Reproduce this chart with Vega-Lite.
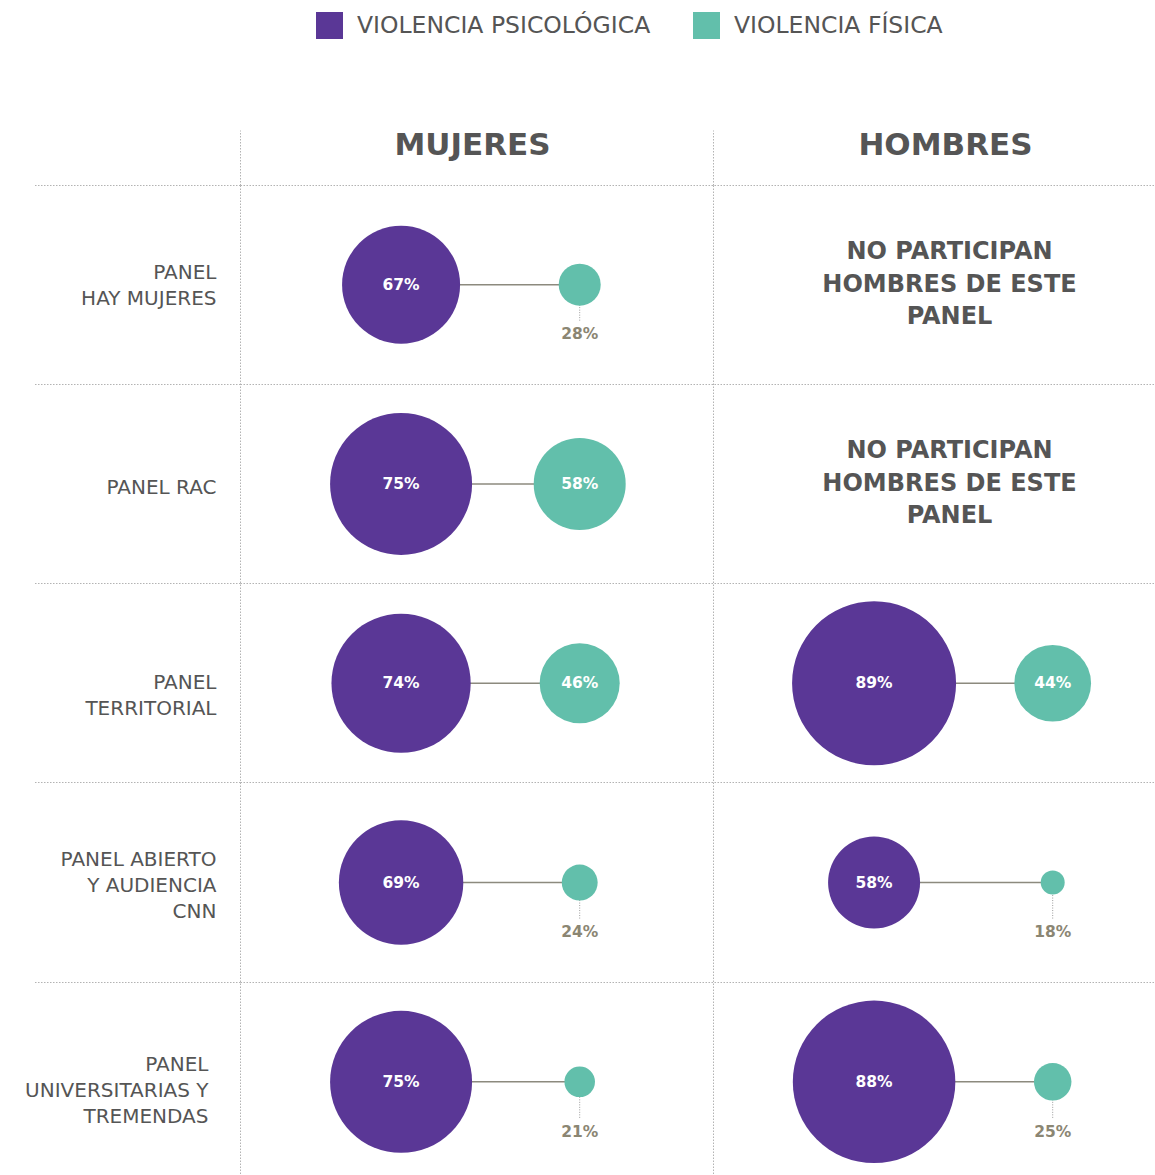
{
  "$schema": "https://vega.github.io/schema/vega-lite/v6.json",
  "width": 915,
  "height": 990,
  "autosize": "none",
  "padding": {"left": 240, "top": 185, "right": 0, "bottom": 0},
  "background": "white",
  "config": {
    "view": {"stroke": null},
    "font": "DejaVu Sans",
    "text": {"font": "DejaVu Sans"}
  },
  "datasets": {
    "valores": [
      {"panel": "PANEL\nHAY MUJERES", "genero": "MUJERES", "tipo": "VIOLENCIA PSICOLÓGICA", "valor": 0.67},
      {"panel": "PANEL\nHAY MUJERES", "genero": "MUJERES", "tipo": "VIOLENCIA FÍSICA", "valor": 0.28},
      {"panel": "PANEL RAC", "genero": "MUJERES", "tipo": "VIOLENCIA PSICOLÓGICA", "valor": 0.75},
      {"panel": "PANEL RAC", "genero": "MUJERES", "tipo": "VIOLENCIA FÍSICA", "valor": 0.58},
      {"panel": "PANEL\nTERRITORIAL", "genero": "MUJERES", "tipo": "VIOLENCIA PSICOLÓGICA", "valor": 0.74},
      {"panel": "PANEL\nTERRITORIAL", "genero": "MUJERES", "tipo": "VIOLENCIA FÍSICA", "valor": 0.46},
      {"panel": "PANEL\nTERRITORIAL", "genero": "HOMBRES", "tipo": "VIOLENCIA PSICOLÓGICA", "valor": 0.89},
      {"panel": "PANEL\nTERRITORIAL", "genero": "HOMBRES", "tipo": "VIOLENCIA FÍSICA", "valor": 0.44},
      {"panel": "PANEL ABIERTO\nY AUDIENCIA\nCNN", "genero": "MUJERES", "tipo": "VIOLENCIA PSICOLÓGICA", "valor": 0.69},
      {"panel": "PANEL ABIERTO\nY AUDIENCIA\nCNN", "genero": "MUJERES", "tipo": "VIOLENCIA FÍSICA", "valor": 0.24},
      {"panel": "PANEL ABIERTO\nY AUDIENCIA\nCNN", "genero": "HOMBRES", "tipo": "VIOLENCIA PSICOLÓGICA", "valor": 0.58},
      {"panel": "PANEL ABIERTO\nY AUDIENCIA\nCNN", "genero": "HOMBRES", "tipo": "VIOLENCIA FÍSICA", "valor": 0.18},
      {"panel": "PANEL\nUNIVERSITARIAS Y\nTREMENDAS", "genero": "MUJERES", "tipo": "VIOLENCIA PSICOLÓGICA", "valor": 0.75},
      {"panel": "PANEL\nUNIVERSITARIAS Y\nTREMENDAS", "genero": "MUJERES", "tipo": "VIOLENCIA FÍSICA", "valor": 0.21},
      {"panel": "PANEL\nUNIVERSITARIAS Y\nTREMENDAS", "genero": "HOMBRES", "tipo": "VIOLENCIA PSICOLÓGICA", "valor": 0.88},
      {"panel": "PANEL\nUNIVERSITARIAS Y\nTREMENDAS", "genero": "HOMBRES", "tipo": "VIOLENCIA FÍSICA", "valor": 0.25}
    ],
    "notas": [
      {"panel": "PANEL\nHAY MUJERES", "genero": "HOMBRES", "nota": "NO PARTICIPAN\nHOMBRES DE ESTE\nPANEL"},
      {"panel": "PANEL RAC", "genero": "HOMBRES", "nota": "NO PARTICIPAN\nHOMBRES DE ESTE\nPANEL"}
    ]
  },
  "encoding": {
    "x": {
      "field": "genero",
      "type": "nominal",
      "scale": {"domain": ["MUJERES", "HOMBRES"], "range": [0, 946], "paddingInner": 0, "paddingOuter": 0},
      "axis": {
        "orient": "top",
        "title": null,
        "bandPosition": 0,
        "domain": false,
        "ticks": true,
        "tickSize": 55,
        "tickColor": "#b3b3b3",
        "tickDash": [1.5, 1.5],
        "tickWidth": 1,
        "grid": true,
        "gridColor": "#b3b3b3",
        "gridDash": [1.5, 1.5],
        "gridWidth": 1,
        "labelAngle": 0,
        "labelPadding": -15,
        "labelOffset": -4,
        "labelBaseline": "middle",
        "labelFont": "DejaVu Sans",
        "labelFontSize": 31,
        "labelFontWeight": "bold",
        "labelColor": "#555555"
      }
    },
    "y": {
      "field": "panel",
      "type": "nominal",
      "scale": {
        "domain": ["PANEL\nHAY MUJERES", "PANEL RAC", "PANEL\nTERRITORIAL", "PANEL ABIERTO\nY AUDIENCIA\nCNN", "PANEL\nUNIVERSITARIAS Y\nTREMENDAS"],
        "range": [0, 996.5],
        "paddingInner": 0,
        "paddingOuter": 0
      },
      "axis": {
        "orient": "left",
        "title": null,
        "bandPosition": 0,
        "domain": false,
        "ticks": true,
        "tickSize": 207,
        "tickColor": "#b3b3b3",
        "tickDash": [1.5, 1.5],
        "tickWidth": 1,
        "grid": true,
        "gridColor": "#b3b3b3",
        "gridDash": [1.5, 1.5],
        "gridWidth": 1,
        "labelPadding": {
          "condition": {"test": "indexof(datum.value, 'UNIVERSITARIAS') >= 0", "value": -175},
          "value": -183
        },
        "labelOffset": {
          "condition": [
            {"test": "indexof(datum.value, 'HAY MUJERES') >= 0", "value": -12},
            {"test": "indexof(datum.value, 'RAC') >= 0", "value": 4},
            {"test": "indexof(datum.value, 'ABIERTO') >= 0", "value": -23},
            {"test": "indexof(datum.value, 'UNIVERSITARIAS') >= 0", "value": -17}
          ],
          "value": 0
        },
        "labelAlign": "right",
        "labelBaseline": "middle",
        "labelFont": "DejaVu Sans",
        "labelFontSize": 20,
        "labelColor": "#555555",
        "labelLineHeight": 26,
        "labelLimit": 400,
        "labelExpr": "split(datum.label, '\\n')"
      }
    }
  },
  "layer": [
    {
      "data": {"name": "valores"},
      "mark": {"type": "line", "color": "#8c8a7e", "strokeWidth": 1.5},
      "encoding": {
        "xOffset": {"field": "tipo", "type": "nominal", "scale": {"domain": ["VIOLENCIA PSICOLÓGICA", "VIOLENCIA FÍSICA"], "paddingInner": 0, "paddingOuter": 0.324, "align": 0.62}},
        "detail": [{"field": "panel", "type": "nominal"}, {"field": "genero", "type": "nominal"}]
      }
    },
    {
      "data": {"name": "valores"},
      "transform": [{"filter": "datum.tipo == 'VIOLENCIA FÍSICA' && datum.valor < 0.4"}],
      "mark": {"type": "rule", "color": "#9a9a9a", "strokeWidth": 1, "strokeDash": [1, 1.5]},
      "encoding": {
        "xOffset": {"field": "tipo", "type": "nominal"},
        "y": {"field": "panel", "type": "nominal", "bandPosition": 0.5},
        "y2": {"field": "panel", "bandPosition": 0.685}
      }
    },
    {
      "data": {"name": "valores"},
      "mark": {"type": "point", "shape": "circle", "filled": true, "opacity": 1, "strokeWidth": 0},
      "encoding": {
        "xOffset": {"field": "tipo", "type": "nominal"},
        "size": {
          "field": "valor",
          "type": "quantitative",
          "scale": {"type": "linear", "domain": [0, 0.18, 0.28, 0.46, 0.58, 0.67, 0.75, 0.89, 1], "range": [0, 576, 1764, 6400, 8464, 13924, 20164, 26896, 33000]},
          "legend": null
        },
        "color": {
          "field": "tipo",
          "type": "nominal",
          "scale": {"domain": ["VIOLENCIA PSICOLÓGICA", "VIOLENCIA FÍSICA"], "range": ["#5a3796", "#62bfab"]},
          "legend": {
            "orient": "none",
            "legendX": 76,
            "legendY": -173,
            "direction": "horizontal",
            "title": null,
            "symbolType": "square",
            "symbolSize": 729,
            "symbolStrokeWidth": 0,
            "symbolOpacity": 1,
            "labelFont": "DejaVu Sans",
            "labelFontSize": 23.5,
            "labelColor": "#555555",
            "labelOffset": 14,
            "columnPadding": 42,
            "padding": 0,
            "labelLimit": 400
          }
        }
      }
    },
    {
      "data": {"name": "valores"},
      "transform": [{"filter": "datum.tipo == 'VIOLENCIA PSICOLÓGICA' || datum.valor >= 0.4"}],
      "mark": {"type": "text", "color": "white", "fontSize": 15.5, "fontWeight": "bold", "baseline": "middle"},
      "encoding": {
        "xOffset": {"field": "tipo", "type": "nominal"},
        "text": {"field": "valor", "type": "quantitative", "format": ".0%"}
      }
    },
    {
      "data": {"name": "valores"},
      "transform": [{"filter": "datum.tipo == 'VIOLENCIA FÍSICA' && datum.valor < 0.4"}],
      "mark": {"type": "text", "color": "#8b8673", "fontSize": 15.5, "fontWeight": "bold", "baseline": "middle"},
      "encoding": {
        "xOffset": {"field": "tipo", "type": "nominal"},
        "y": {"field": "panel", "type": "nominal", "bandPosition": 0.75},
        "text": {"field": "valor", "type": "quantitative", "format": ".0%"}
      }
    },
    {
      "data": {"name": "notas"},
      "mark": {"type": "text", "color": "#555555", "fontSize": 24, "fontWeight": "bold", "baseline": "middle", "lineBreak": "\n", "lineHeight": 32.5},
      "encoding": {
        "y": {"field": "panel", "type": "nominal", "bandPosition": 0.337},
        "text": {"field": "nota", "type": "nominal"}
      }
    }
  ]
}
